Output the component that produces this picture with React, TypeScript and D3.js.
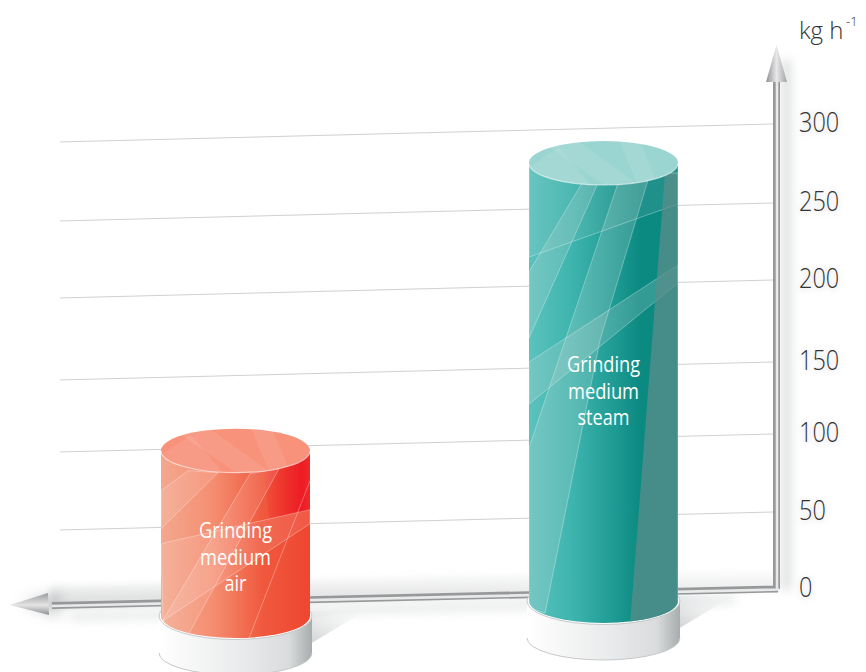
import React from 'react';
import * as d3 from 'd3';

const categories = ['air', 'steam'];
const throughput = [98, 278];
const labelLines = [['Grinding', 'medium', 'air'], ['Grinding', 'medium', 'steam']];
const tickValues = [0, 50, 100, 150, 200, 250, 300];

// decorative glass facets, px from the body's top-left
const airFacets = [
  [[27, 20], [57, 22], [0, 78], [0, 40]],
  [[89, 23], [118, 18], [24, 190], [2, 170]],
  [[0, 93], [149, 59], [149, 73], [2, 170]],
];
const steamFacets = [
  [[53, 20], [69, 20], [0, 175], [0, 109]],
  [[89, 20], [119, 17], [71, 177], [16, 450], [0, 445], [0, 285]],
  [[0, 94], [149, 41], [149, 0], [0, 0]],
  [[0, 199], [149, 102], [149, 120], [0, 241]],
];
const topBands = [
  [[-60, -20], [-30, -25], [40, 25], [5, 25]],
  [[15, -25], [35, -25], [55, 22], [35, 25]],
  [[-75, 5], [-45, -16], [-10, 25], [-40, 22]],
];

const W = 866;
const H = 672;
const slope = 0.0252;
const font = '"Open Sans", "Noto Sans", sans-serif';
const textWidths: Record<string, number> = { Grinding: 73, medium: 71, air: 22, steam: 52 };

const App: React.FC = () => {
  const yRight = d3.scaleLinear().domain(tickValues).range([590, 512, 434, 362, 280, 203, 124]);
  const yAt = (v: number, x: number) => yRight(v) + (773 - x) * slope;
  const cx = d3.scalePoint<string>().domain(categories).range([235.5, 603.5]);
  const floor = d3.scalePoint<string>().domain(categories).range([616, 601]);
  const line = d3.line();
  const rx = 74.5;
  const ry = 22;

  const bars = categories.map((c, i) => {
    const x = cx(c)!;
    return { c, x, top: yAt(throughput[i], x), bottom: floor(c)!, lines: labelLines[i] };
  });

  return (
    <svg width={W} height={H} style={{ position: 'absolute', left: 0, top: 0, background: '#fff' }} fontFamily={font}>
      <defs>
        <filter id="blur8" filterUnits="userSpaceOnUse" x="0" y="0" width={W} height={H}><feGaussianBlur stdDeviation="7" /></filter>
        <filter id="blur5" filterUnits="userSpaceOnUse" x="0" y="0" width={W} height={H}><feGaussianBlur stdDeviation="5" /></filter>
        <filter id="blur3" filterUnits="userSpaceOnUse" x="0" y="0" width={W} height={H}><feGaussianBlur stdDeviation="3" /></filter>
        <linearGradient id="body-air" x1="0" x2="1" y1="0" y2="0">
          <stop offset="0" stopColor="#f3a88f" />
          <stop offset="0.35" stopColor="#f58e71" />
          <stop offset="0.68" stopColor="#f0593e" />
          <stop offset="1" stopColor="#ef4630" />
        </linearGradient>
        <linearGradient id="red-glow" x1="0" x2="1" y1="0" y2="0">
          <stop offset="0" stopColor="#ed1c24" stopOpacity="0" />
          <stop offset="0.85" stopColor="#ed1c24" />
          <stop offset="1" stopColor="#ee2a2a" />
        </linearGradient>
        <linearGradient id="body-steam" x1="0" x2="1" y1="0" y2="0">
          <stop offset="0" stopColor="#5cc2bd" />
          <stop offset="0.3" stopColor="#3cb4ad" />
          <stop offset="0.75" stopColor="#0b8a82" />
          <stop offset="1" stopColor="#0b8a82" />
        </linearGradient>
        <linearGradient id="pedestal" x1="0" x2="1" y1="0" y2="0">
          <stop offset="0" stopColor="#ffffff" />
          <stop offset="0.55" stopColor="#e9eaeb" />
          <stop offset="0.85" stopColor="#d9dbdc" />
          <stop offset="1" stopColor="#a8acad" />
        </linearGradient>
        <linearGradient id="head-up" x1="0" x2="1" y1="0" y2="0">
          <stop offset="0" stopColor="#8f9092" />
          <stop offset="0.5" stopColor="#e8e8e9" />
          <stop offset="1" stopColor="#a2a3a5" />
        </linearGradient>
        <linearGradient id="head-left" x1="0" x2="0" y1="0" y2="1">
          <stop offset="0" stopColor="#9b9c9e" />
          <stop offset="0.55" stopColor="#e4e4e5" />
          <stop offset="1" stopColor="#8f9092" />
        </linearGradient>
        <linearGradient id="floor-fade" x1="0" x2="0" y1="0" y2="1">
          <stop offset="0" stopColor="#d5d7d8" stopOpacity="0" />
          <stop offset="1" stopColor="#cdcfd0" stopOpacity="0.8" />
        </linearGradient>
        <linearGradient id="ped-shadow" x1="0" x2="1" y1="1" y2="0">
          <stop offset="0" stopColor="#cfd1d2" />
          <stop offset="1" stopColor="#f4f5f5" stopOpacity="0.2" />
        </linearGradient>
        {bars.map(b => (
          <clipPath id={`clip-${b.c}`} key={b.c}>
            <path d={`M${b.x - rx},${b.top}V${b.bottom}A${rx},${ry} 0 0 0 ${b.x + rx},${b.bottom}V${b.top}Z`} />
          </clipPath>
        ))}
        {bars.map(b => (
          <clipPath id={`top-${b.c}`} key={b.c}>
            <ellipse cx={b.x} cy={b.top} rx={rx} ry={ry} />
          </clipPath>
        ))}
      </defs>

      {/* grey fade along the floor line */}
      <path
        d={line([[50, yAt(0, 50) - 22], [778, yAt(0, 778) - 22], [778, yAt(0, 778)], [50, yAt(0, 50)]])!}
        fill="url(#floor-fade)"
        filter="url(#blur3)"
      />
      <path
        d={line([[70, yAt(0, 70) + 4], [735, yAt(0, 735) + 4], [735, yAt(0, 735) + 14], [70, yAt(0, 70) + 14]])!}
        fill="#dcdedf"
        opacity={0.55}
        filter="url(#blur5)"
      />

      {/* grid */}
      {tickValues.slice(1).map(t => (
        <line key={t} x1={60} x2={773} y1={yAt(t, 60)} y2={yAt(t, 773)} stroke="#cfd0d1" strokeWidth={1} />
      ))}

      {/* axis shadows */}
      <rect x={782} y={60} width={9} height={530} fill="#c3c5c6" opacity={0.55} filter="url(#blur5)" />
      <path d="M22,602 L60,592 L60,618 Z" fill="#a9abac" opacity={0.55} filter="url(#blur8)" />

      {/* axes */}
      <path d={line([[52, 605.5], [778, 589], [776.5, 589], [776.5, 80]])!} fill="none" stroke="#97989a" strokeWidth={7} />
      <path d={line([[52, 606], [779, 589.5], [777, 589.5], [777, 80]])!} fill="none" stroke="#e9e9ea" strokeWidth={2.6} />
      <path d={line([[776.5, 45], [787, 82], [766, 82]])!} fill="url(#head-up)" />
      <path d={line([[10, 605], [48, 593], [49, 615]])!} fill="url(#head-left)" />

      {/* tick labels */}
      {tickValues.map(t => {
        const y = yRight(t) + (t === 0 ? 7 : 8);
        const label = String(t);
        return (
          <g key={t} fontSize={27} fontWeight={300}>
            <text x={799} y={y + 1} fill="#999" opacity={0.5} filter="url(#blur3)" textLength={label.length * 13.4} lengthAdjust="spacingAndGlyphs">{label}</text>
            <text x={799} y={y} fill="#333" textLength={label.length * 13.4} lengthAdjust="spacingAndGlyphs">{label}</text>
          </g>
        );
      })}
      <text x={799} y={39} fontSize={24} fontWeight={300} fill="#333">kg h</text>
      <text x={846} y={26} fontSize={13} fontWeight={300} fill="#333">-1</text>

      {/* cylinders */}
      {bars.map(b => {
        const left = b.x - rx;
        const steam = b.c === 'steam';
        const facets = steam ? steamFacets : airFacets;
        const shift = (p: number[][]) => p.map(([dx, dy]) => [left + dx, b.top + dy] as [number, number]);
        const pedBottom = b.bottom + 37;
        return (
          <g key={b.c}>
            <path
              d={line([[b.x + rx, pedBottom - 9], [b.x + rx + 55, b.bottom - 5], [b.x + rx, b.bottom - 5]])!}
              fill="url(#ped-shadow)"
            />
            {/* pedestal */}
            <path
              d={`M${b.x - rx - 2},${b.bottom}V${pedBottom}A${rx + 2},${ry} 0 0 0 ${b.x + rx + 2},${pedBottom}V${b.bottom}Z`}
              fill="url(#pedestal)"
            />
            <path
              d={`M${b.x - rx - 2},${pedBottom}A${rx + 2},${ry} 0 0 0 ${b.x + rx + 2},${pedBottom}`}
              fill="none"
              stroke="#c6c8c9"
              strokeWidth={1}
            />
            <ellipse cx={b.x} cy={b.bottom} rx={rx + 2} ry={ry + 1.5} fill="#fff" stroke="#b9bbbc" strokeWidth={0.8} />

            <g clipPath={`url(#clip-${b.c})`}>
              <rect x={left} y={b.top} width={rx * 2} height={b.bottom - b.top + ry} fill={`url(#body-${b.c})`} />
              {!steam && (
                <path d={line(shift([[100, 0], [149, 0], [149, 59], [108, 68]]))!} fill="url(#red-glow)" />
              )}
              {facets.map((f, i) => {
                const isOverlay = steam && i === 2;
                return (
                  <path
                    key={i}
                    d={line(shift(f))! + 'Z'}
                    fill={steam ? '#d6dcdc' : '#fff'}
                    fillOpacity={isOverlay ? 0.1 : steam ? 0.2 : 0.1}
                    stroke="#fff"
                    strokeOpacity={0.4}
                    strokeWidth={0.8}
                  />
                );
              })}
              {steam && (
                <path
                  d={line(shift([[136, 10], [149, 10], [149, 475], [100, 475]]))!}
                  fill="#5d8d8a"
                  fillOpacity={0.72}
                  stroke="#cfe6e4"
                  strokeOpacity={0.6}
                  strokeWidth={0.8}
                />
              )}
              {!steam && (
                <line
                  x1={left + 149}
                  y1={b.top + 30}
                  x2={left + 87}
                  y2={b.top + 190}
                  stroke="#fff"
                  strokeOpacity={0.4}
                  strokeWidth={0.8}
                />
              )}
            </g>

            {/* top cap */}
            <ellipse cx={b.x} cy={b.top} rx={rx} ry={ry} fill={steam ? '#9ad5d1' : '#f8927a'} />
            <g clipPath={`url(#top-${b.c})`}>
              {topBands.map((t, i) => (
                <path
                  key={i}
                  d={line(t.map(([dx, dy]) => [b.x + dx, b.top + dy] as [number, number]))! + 'Z'}
                  fill="#fff"
                  fillOpacity={0.09}
                />
              ))}
            </g>
            <path
              d={`M${b.x - rx},${b.top}A${rx},${ry} 0 0 0 ${b.x + rx},${b.top}`}
              fill="none"
              stroke="#fff"
              strokeOpacity={0.6}
              strokeWidth={1.2}
            />

            {b.lines.map((l, i) => (
              <text
                key={i}
                x={b.x}
                y={(steam ? 372 : 538) + i * 26.5}
                fill="#fff"
                fontSize={21}
                fontWeight={400}
                textAnchor="middle"
                textLength={textWidths[l]}
                lengthAdjust="spacingAndGlyphs"
              >
                {l}
              </text>
            ))}
          </g>
        );
      })}
    </svg>
  );
};

export default App;
